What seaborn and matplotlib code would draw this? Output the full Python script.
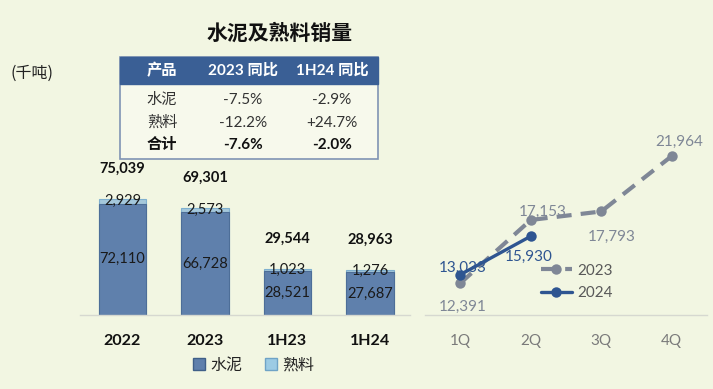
import numpy as np
import matplotlib
matplotlib.use("Agg")
import matplotlib.pyplot as plt
from matplotlib.patches import Rectangle
from matplotlib.lines import Line2D
import seaborn as sns

# bar chart data (thousand tonnes)
periods = ["2022", "2023", "1H23", "1H24"]
cement = [72110, 66728, 28521, 27687]
clinker = [2929, 2573, 1023, 1276]
totals = [75039, 69301, 29544, 28963]

# quarterly sales
quarters = ["1Q", "2Q", "3Q", "4Q"]
q2023 = [12391, 17153, 17793, 21964]
q2024 = [13033, 15930]

# yoy table
table_head = ["产品", "2023 同比", "1H24 同比"]
table_rows = [["水泥", "-7.5%", "-2.9%"],
              ["熟料", "-12.2%", "+24.7%"],
              ["合计", "-7.6%", "-2.0%"]]

BG = "#f2f6e2"
C_CEMENT = "#5f80ac"
C_CLINKER = "#9ccbe4"
C_23 = "#7f8796"
C_24 = "#2e5591"

sns.set_theme(style="white")
plt.rcParams['font.family'] = ['Lato', 'Noto Sans CJK SC', 'DejaVu Sans']

W, H = 713, 389
fig = plt.figure(figsize=(W / 100, H / 100), dpi=100, facecolor=BG)


def fx(x):
    return x / W


def fy(y):
    return 1 - y / H


def axes_px(left, top, right, bottom):
    return fig.add_axes([fx(left), fy(bottom), fx(right - left), (bottom - top) / H])


# ---- title and unit
fig.text(fx(280), fy(33), "水泥及熟料销量", ha="center", va="center",
         fontsize=15, fontweight="bold", color="#111111", family=['Noto Sans CJK SC'])
fig.text(fx(10), fy(73), "(千吨)", ha="left", va="center", fontsize=11.5,
         color="#222222", family=['Noto Sans CJK SC'])

# ---- table
tl, tr, tt, tb, th = 120, 378, 57, 159, 84
fig.patches.append(Rectangle((fx(tl), fy(tb)), fx(tr - tl), (tb - tt) / H,
                             transform=fig.transFigure, facecolor="#f7f9ec",
                             edgecolor="#8094b4", lw=1.2))
fig.patches.append(Rectangle((fx(tl), fy(th)), fx(tr - tl), (th - tt) / H,
                             transform=fig.transFigure, facecolor="#3a5f95",
                             edgecolor="#3a5f95", lw=1))
col_x = [162, 243, 332]
for cx, txt in zip(col_x, table_head):
    fig.text(fx(cx), fy(70.5), txt, ha="center", va="center", fontsize=11,
             fontweight="bold", color="white")
row_y = [100, 123, 145]
for i, (ry, row) in enumerate(zip(row_y, table_rows)):
    bold = i == len(table_rows) - 1
    for cx, txt in zip(col_x, row):
        fig.text(fx(cx), fy(ry), txt, ha="center", va="center", fontsize=11,
                 fontweight="bold" if bold else "normal",
                 color="#111111" if bold else "#333333")

# ---- stacked bars
ax = axes_px(80, 160.4, 410, 315)
ax.set_facecolor("none")
xs = np.arange(len(periods))
sns.barplot(x=xs, y=totals, color=C_CLINKER, width=0.57, ax=ax,
            edgecolor="#7fb0cf", linewidth=0.8, native_scale=True)
sns.barplot(x=xs, y=cement, color=C_CEMENT, width=0.57, ax=ax,
            edgecolor="#4d6e98", linewidth=0.8, saturation=1, native_scale=True)
for p in ax.patches:
    p.set_alpha(1)
ax.set_xlim(-0.515, 3.485)
ax.set_ylim(0, 100000)
for i in range(len(periods)):
    ax.text(xs[i], cement[i] / 2, f"{cement[i]:,}", ha="center", va="center",
            fontsize=10.5, color="#1a1a1a")
    ax.text(xs[i], cement[i] + clinker[i] / 2, f"{clinker[i]:,}", ha="center",
            va="center", fontsize=10.5, color="#1a1a1a")
    ax.annotate(f"{totals[i]:,}", (xs[i], totals[i]), xytext=(0, 22),
                textcoords="offset points", ha="center", va="center",
                fontsize=10.5, fontweight="bold", color="#111111")
ax.set_xticks(xs)
ax.set_xticklabels(periods, fontsize=11.5, fontweight="bold", color="#111111")
ax.tick_params(axis="x", length=0, pad=14)
ax.set_yticks([])
ax.set_xlabel("")
ax.set_ylabel("")
for s in ["top", "right", "left"]:
    ax.spines[s].set_visible(False)
ax.spines["bottom"].set_color("#d6d8d0")
ax.spines["bottom"].set_linewidth(1)

bar_handles = [Line2D([], [], marker="s", ls="", markersize=8, markerfacecolor=C_CEMENT,
                      markeredgecolor="#3f5f88"),
               Line2D([], [], marker="s", ls="", markersize=8, markerfacecolor=C_CLINKER,
                      markeredgecolor="#6fa3c6")]
fig.legend(bar_handles, ["水泥", "熟料"], loc="center", bbox_to_anchor=(fx(252), fy(365)),
           ncol=2, frameon=False, handletextpad=0.1, columnspacing=1.2,
           handlelength=1.2, labelcolor="#222222",
           prop={'family': ['Noto Sans CJK SC'], 'size': 11.5})

# ---- quarterly lines
ax2 = axes_px(425, 129, 707, 315)
ax2.set_facecolor("none")
sns.lineplot(x=np.arange(len(q2023)), y=q2023, ax=ax2, color=C_23, lw=3,
             linestyle=(0, (3.6, 2.2)), marker="o", markersize=7.5,
             markeredgewidth=0, label="2023")
sns.lineplot(x=np.arange(len(q2024)), y=q2024, ax=ax2, color=C_24, lw=2.4,
             marker="o", markersize=7.5, markeredgewidth=0, label="2024")
ax2.set_xlim(-0.5, 3.5)
ax2.set_ylim(10000, 24000)

lab23 = [(2, -24), (12, 8), (10, -25), (7, 14)]
lab24 = [(2, 7), (-2, -21)]
for i, (v, off) in enumerate(zip(q2023, lab23)):
    ax2.annotate(f"{v:,}", (i, v), xytext=off, textcoords="offset pixels",
                 ha="center", va="center", fontsize=11, color=C_23)
for i, (v, off) in enumerate(zip(q2024, lab24)):
    ax2.annotate(f"{v:,}", (i, v), xytext=off, textcoords="offset pixels",
                 ha="center", va="center", fontsize=11, color=C_24)

ax2.set_xticks(np.arange(len(quarters)))
ax2.set_xticklabels(quarters, fontsize=11, color="#7a7a7a")
ax2.tick_params(axis="x", length=0, pad=14)
ax2.set_yticks([])
ax2.set_xlabel("")
ax2.set_ylabel("")
for s in ["top", "right", "left"]:
    ax2.spines[s].set_visible(False)
ax2.spines["bottom"].set_color("#d6d8d0")
ax2.spines["bottom"].set_linewidth(1)
ax2.legend(loc="center left", frameon=False, fontsize=11,
           labelcolor="#595959", handlelength=2.0, handletextpad=0.4,
           labelspacing=0.55, borderpad=0, borderaxespad=0,
           bbox_to_anchor=(fx(541), fy(282)), bbox_transform=fig.transFigure)

fig.savefig("out.png", dpi=100, facecolor=BG)
